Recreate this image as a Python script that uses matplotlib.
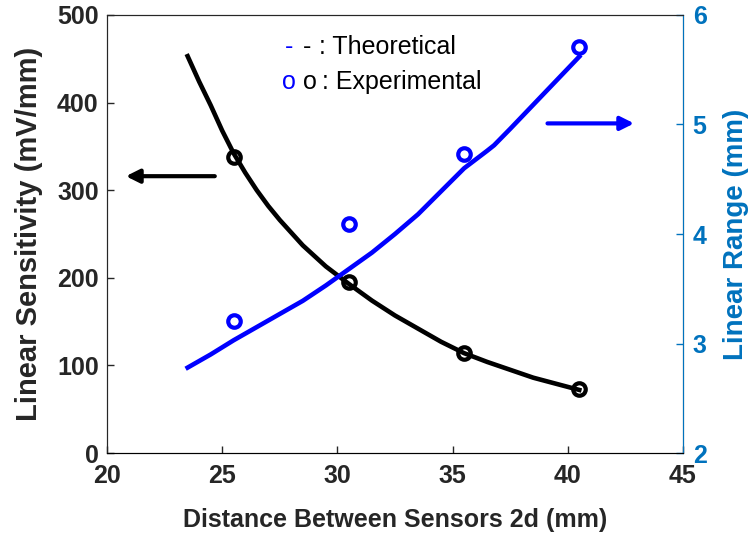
import matplotlib.pyplot as plt

plt.rcParams['font.family'] = ['Liberation Sans', 'DejaVu Sans']

# theoretical curves
d_sens = [23.5, 24.0, 24.5, 25.0, 25.5, 26.0, 26.5, 27.0, 27.5, 28.5, 29.5, 30.5,
          31.5, 32.5, 33.5, 34.5, 35.5, 36.5, 37.5, 38.5, 39.5, 40.5]
sens_theory = [453, 424, 397, 368, 342, 320, 300, 282, 266, 237, 213, 193,
               174, 157, 142, 127, 114, 104, 95, 86, 79, 72]

d_range = [23.5, 24.5, 25.5, 26.5, 27.5, 28.5, 29.5, 30.5, 31.5, 32.5, 33.5,
           34.5, 35.5, 36.5, 36.8, 37.5, 38.5, 39.5, 40.5]
range_theory = [2.78, 2.90, 3.03, 3.15, 3.27, 3.39, 3.53, 3.68, 3.83, 4.00, 4.18,
                4.39, 4.60, 4.76, 4.81, 4.96, 5.18, 5.40, 5.62]

# experimental points
d_exp = [25.5, 30.5, 35.5, 40.5]
sens_exp = [338, 195, 114, 73]
range_exp = [3.21, 4.09, 4.73, 5.71]

x_ticks = [20, 25, 30, 35, 40, 45]
sens_ticks = [0, 100, 200, 300, 400, 500]
range_ticks = [2, 3, 4, 5, 6]

spine_gray = '#262626'
matlab_blue = '#0072BD'

fig = plt.figure(figsize=(7.55, 5.43), dpi=100)
ax = fig.add_axes([0.1417, 0.1657, 0.7629, 0.8067])
ax2 = ax.twinx()

ax.plot(d_sens, sens_theory, color='black', lw=3.3)
ax.plot(d_exp, sens_exp, 'o', mfc='none', mec='black', ms=9, mew=3)
ax2.plot(d_range, range_theory, color='#0000FF', lw=3.3)
ax2.plot(d_exp, range_exp, 'o', mfc='none', mec='#0000FF', ms=9, mew=3)

ax.set_xlim(20, 45)
ax.set_ylim(0, 500)
ax2.set_ylim(2, 6)
ax.set_xticks(x_ticks)
ax.set_yticks(sens_ticks)
ax2.set_yticks(range_ticks)

ax.tick_params(direction='in', length=5, width=1, colors=spine_gray, labelsize=18, pad=6)
ax.tick_params(axis='x', pad=8)
ax2.tick_params(direction='in', length=5, width=1, colors=matlab_blue, labelsize=18, pad=7)
for lab in ax.get_xticklabels() + ax.get_yticklabels():
    lab.set_fontweight('bold')
for lab in ax2.get_yticklabels():
    lab.set_fontweight('bold')

for s in ['left', 'bottom', 'top']:
    ax.spines[s].set_color(spine_gray)
ax2.spines['right'].set_color(matlab_blue)
ax2.spines['top'].set_color(spine_gray)
ax2.spines['left'].set_color(spine_gray)

ax.set_xlabel('Distance Between Sensors 2d (mm)', fontsize=18, fontweight='bold',
              color=spine_gray, labelpad=14)
ax.set_ylabel('Linear Sensitivity (mV/mm)', fontsize=21, fontweight='bold',
              color=spine_gray, labelpad=10)
ax2.set_ylabel('Linear Range (mm)', fontsize=20, fontweight='bold',
               color=matlab_blue, labelpad=12)

# arrows pointing to each axis
ax.annotate('', xy=(20.7, 316), xytext=(24.8, 316),
            arrowprops=dict(arrowstyle='-|>', color='black', lw=3, mutation_scale=20))
ax2.annotate('', xy=(43.0, 5.01), xytext=(39.0, 5.01),
             arrowprops=dict(arrowstyle='-|>', color='#0000FF', lw=3, mutation_scale=20))

# hand-made legend
fs = 18
ax2.text(27.73, 5.71, '-', color='#0000FF', fontsize=fs, va='center')
ax2.text(28.5, 5.71, '-', color='black', fontsize=fs, va='center')
ax2.text(29.2, 5.71, ': Theoretical', color='black', fontsize=fs, va='center')
ax2.text(27.6, 5.39, 'o', color='#0000FF', fontsize=fs, va='center')
ax2.text(28.5, 5.39, 'o', color='black', fontsize=fs, va='center')
ax2.text(29.35, 5.39, ': Experimental', color='black', fontsize=fs, va='center')

fig.savefig('out.png', dpi=100)
